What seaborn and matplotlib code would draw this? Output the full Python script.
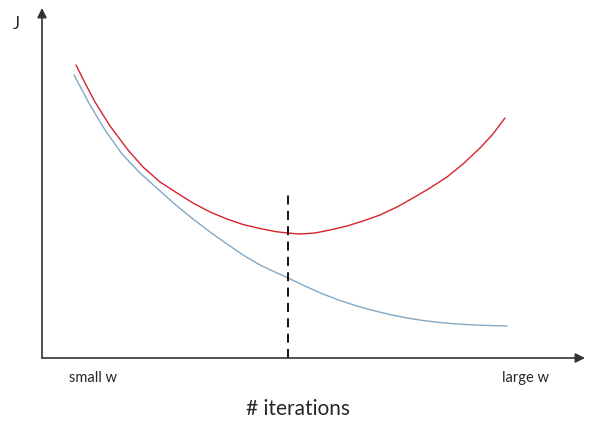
import numpy as np
import pandas as pd
import matplotlib
matplotlib.use("Agg")
import matplotlib.pyplot as plt
import seaborn as sns

# values (x = iterations, J = cost, arbitrary units)
red_x = [34, 43, 53, 68, 86, 101, 118, 135, 151, 168, 185, 201, 218, 233, 245,
         258, 273, 288, 305, 321, 338, 355, 371, 388, 405, 421, 438, 451, 463]
red_j = [293, 275, 256, 232, 208, 191, 176, 165, 155, 146, 139, 133.5, 129.5, 126.5, 125,
         124, 125, 128, 132, 137, 143, 151, 160, 170, 181, 194, 210, 224, 240]
blue_x = [32, 48, 63, 80, 98, 118, 135, 151, 168, 185, 201, 218, 233, 245,
          265, 281, 298, 315, 331, 348, 365, 381, 398, 415, 438, 465]
blue_j = [283, 253, 228, 204, 185, 167, 152, 139, 126, 114, 103, 93, 86, 80.5,
          71, 64, 57.5, 52, 47.5, 43.5, 40, 37.5, 35.5, 34, 32.8, 32]
stop_x = 246
stop_top = 163
tick_labels = ["small w", "large w"]
tick_pos = [51, 483]

sns.set_style("white")
plt.rcParams["font.family"] = ["Lato", "DejaVu Sans"]

fig = plt.figure(figsize=(5.9, 4.33), dpi=100)
ax = fig.add_axes([42 / 590, 75 / 433, 543 / 590, 350 / 433])
ax.set_xlim(0, 543)
ax.set_ylim(0, 350)

df_red = pd.DataFrame({"x": red_x, "J": red_j})
df_blue = pd.DataFrame({"x": blue_x, "J": blue_j})
sns.lineplot(data=df_red, x="x", y="J", ax=ax, color="#d6222f", linewidth=1.0)
sns.lineplot(data=df_blue, x="x", y="J", ax=ax, color="#82a8c4", linewidth=1.0)
ax.plot([stop_x, stop_x], [0, stop_top], color="black", linestyle=(0, (5, 3.5)), linewidth=1.3)

for s in ax.spines.values():
    s.set_visible(False)
ax.set_xticks([])
ax.set_yticks([])
ax.set_xlabel("")
ax.set_ylabel("")

arrow = dict(arrowstyle="-|>", color="#333333", lw=1.2, mutation_scale=14, shrinkA=0, shrinkB=0)
ax.annotate("", xy=(1, 0), xytext=(0, 0), xycoords="axes fraction", arrowprops=arrow)
ax.annotate("", xy=(0, 1), xytext=(0, 0), xycoords="axes fraction", arrowprops=arrow)

ax.text(-26, 334, "J", fontsize=12, ha="center", va="center", clip_on=False)
for lbl, p in zip(tick_labels, tick_pos):
    ax.text(p, -20, lbl, fontsize=10.5, ha="center", va="center", clip_on=False)
ax.text(256, -51, "# iterations", fontsize=15, ha="center", va="center", clip_on=False)

fig.savefig("out.png", dpi=100)
